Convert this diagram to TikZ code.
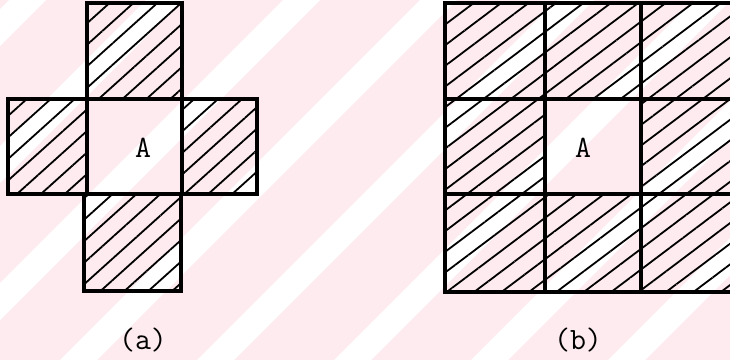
\documentclass[tikz,border=0pt]{standalone}
\usetikzlibrary{patterns.meta}
\definecolor{wmpink}{RGB}{253,235,239}

\tikzset{
  cell/.style={draw, line width=3.3pt, inner sep=0pt},
  hatchA/.style={pattern={Lines[angle=42,distance=16pt,line width=1.8pt]}},
  hatchB/.style={pattern={Lines[angle=37,distance=16.5pt,line width=1.8pt]}},
  lbl/.style={font=\ttfamily\fontsize{31}{31}\selectfont, inner sep=0pt}
}

\begin{document}
\begin{tikzpicture}[x=1pt,y=-1pt]
    \useasboundingbox (0,0) rectangle (730,360);
    % faint watermark behind everything
    \fill[wmpink] (0,0) rectangle (730,360);
    \begin{scope}
        \clip (0,0) rectangle (730,360);
        \foreach \c in {9,146,...,1105}
            \fill[white] (\c,0) -- (\c+37,0) -- (\c-363,400) -- (\c-400,400) -- cycle;
    \end{scope}

    % (a) cross of five cells
    \node[cell,hatchA,minimum width=95,minimum height=96] (a-top) at (134.5,51) {};
    \node[cell,hatchA,minimum width=79,minimum height=95] (a-left) at (47.5,146.5) {};
    \node[cell,minimum width=95,minimum height=95] (a-mid) at (134.5,146.5) {};
    \node[cell,hatchA,minimum width=75,minimum height=95] (a-right) at (219.5,146.5) {};
    \node[cell,hatchA,minimum width=97,minimum height=97] (a-bot) at (132.5,242.5) {};
    \node[lbl] (a-A) at (143,148) {A};
    \node[lbl] (a-cap) at (143,340) {(a)};

    % (b) full 3x3 block
    \foreach \n/\x/\y/\w/\h in {11/495/51/100/96, 12/593/51/96/96, 13/688.5/51/95/96,
                                21/495/146.5/100/95, 23/688.5/146.5/95/95,
                                31/495/243/100/98, 32/593/243/96/98, 33/688.5/243/95/98} {
        \node[cell,hatchB,minimum width=\w,minimum height=\h] (b\n) at (\x,\y) {};
    }
    \node[cell,minimum width=96,minimum height=95] (b22) at (593,146.5) {};
    \node[lbl] (b-A) at (583,148) {A};
    \node[lbl] (b-cap) at (578,340) {(b)};
\end{tikzpicture}
\end{document}
